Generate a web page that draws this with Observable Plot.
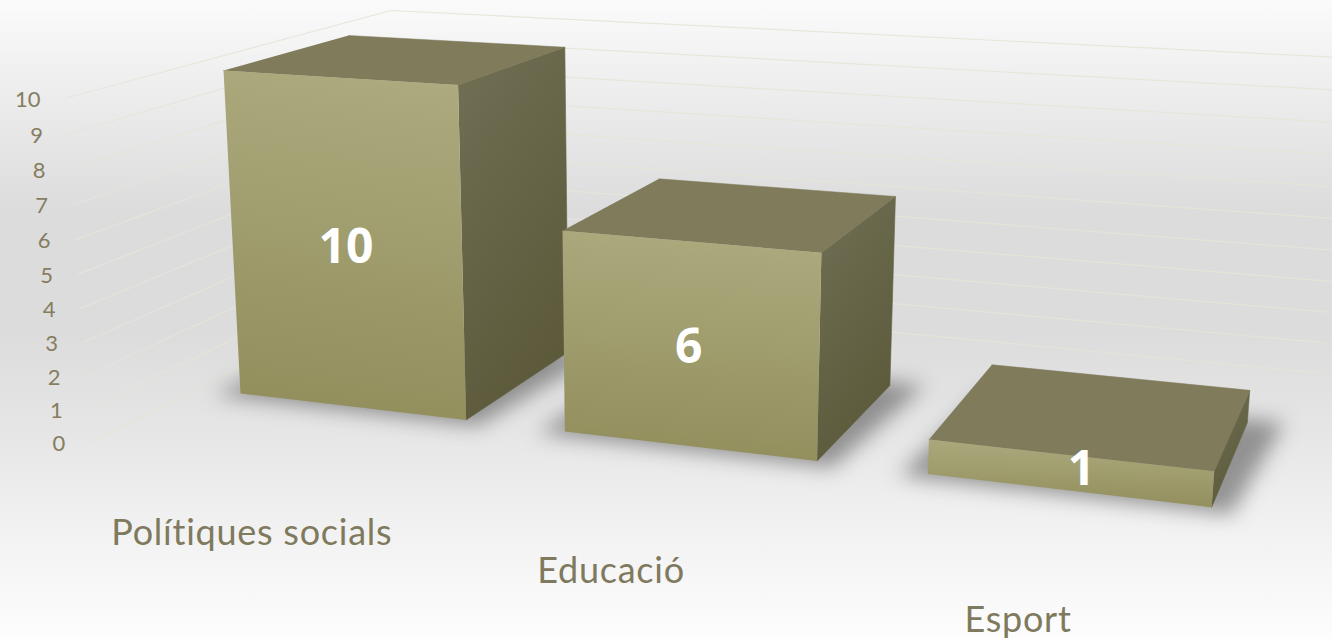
<!DOCTYPE html>
<html>
<head>
<meta charset="utf-8">
<script src="https://cdn.jsdelivr.net/npm/d3@7"></script>
<script src="https://cdn.jsdelivr.net/npm/@observablehq/plot@0.6"></script>
<style>
  html, body { margin: 0; padding: 0; background: #fff; overflow: hidden; }
  .cat text { letter-spacing: 0.75px; }
</style>
</head>
<body>
<div id="chart"></div>
<script>
// ---- chart data ----
const categories = ["Polítiques socials", "Educació", "Esport"];
const values = [10, 6, 1];
const ticks = [0, 1, 2, 3, 4, 5, 6, 7, 8, 9, 10];

// ---- 3D camera: vanishing points ----
const VX = [-5532, -283], VY = [655, 8287], VZ = [1553, -303], ORIGIN = [240, 393];
const KX = -0.038, KY = -0.00393, KZ = 0.0997;
function project(X, Y, Z) {
  const A = KX * X, B = KY * Y, C = KZ * Z;
  const w = 1 + A + B + C;
  return {
    x: (ORIGIN[0] + A * VX[0] + B * VY[0] + C * VZ[0]) / w,
    y: (ORIGIN[1] + A * VX[1] + B * VY[1] + C * VZ[1]) / w
  };
}

// ---- layout of the 3D box ----
const STEP = 1.4, BAR = 0.99, DEPTH = 1;
const WALL_X0 = -0.2, WALL_X1 = WALL_X0 + STEP * categories.length;
const WALL_Z0 = -0.737, WALL_Z1 = 1.778;
const labelDrop = [70, 61, 58];
const labelNudge = [[-2, 0], [-3, 0], [-4, 0]];
const valueNudge = [[1, 2], [0, 3], [14, -3]];

const poly = (id, corners) => corners.map(([X, Y, Z]) => ({id, ...project(X, Y, Z)}));

const front = [], top_ = [], right = [], shadow = [];
values.forEach((v, i) => {
  const x0 = i * STEP, x1 = x0 + BAR;
  front.push(...poly(i, [[x0, 0, 0], [x1, 0, 0], [x1, v, 0], [x0, v, 0]]));
  top_.push(...poly(i, [[x0, v, 0], [x1, v, 0], [x1, v, DEPTH], [x0, v, DEPTH]]));
  right.push(...poly(i, [[x1, 0, 0], [x1, 0, DEPTH], [x1, v, DEPTH], [x1, v, 0]]));
  shadow.push(...poly(i, [[x0 - 0.09, 0, -0.05], [x1 + 0.07, 0, -0.05], [x1 + 0.13, 0, DEPTH + 0.05], [x0 - 0.03, 0, DEPTH + 0.05]]));
});

const grid = ticks.flatMap(t => poly(t, [[WALL_X0, t, WALL_Z0], [WALL_X0, t, WALL_Z1], [WALL_X1, t, WALL_Z1]]));
const tickLabels = ticks.map(t => ({t, ...project(WALL_X0, t, WALL_Z0)}));
const catLabels = categories.map((c, i) => {
  const p = project(i * STEP + BAR / 2, 0, WALL_Z0);
  return {c, x: p.x + labelNudge[i][0], y: p.y + labelDrop[i] + labelNudge[i][1]};
});
const valueLabels = values.map((v, i) => {
  const p = project(i * STEP + BAR / 2, v / 2, 0);
  return {v, x: p.x + valueNudge[i][0], y: p.y + valueNudge[i][1]};
});

const defs = () => {
  const s = d3.create("svg:defs");
  const grad = (id, x1, y1, x2, y2, a, b) => {
    const g = s.append("linearGradient").attr("id", id)
      .attr("x1", x1).attr("y1", y1).attr("x2", x2).attr("y2", y2);
    g.append("stop").attr("offset", "0%").attr("stop-color", a);
    g.append("stop").attr("offset", "100%").attr("stop-color", b);
  };
  grad("frontFace", 0.55, 0, 0.45, 1, "#acaa7e", "#928e5c");
  grad("rightFace", 0.3, 0, 0.7, 1, "#6f6d52", "#5a5838");
  return s.node();
};

const plot = Plot.plot({
  width: 1332,
  height: 639,
  margin: 0,
  x: {domain: [0, 1332], range: [0, 1332], axis: null},
  y: {domain: [0, 639], range: [0, 639], axis: null},
  style: {
    background: "linear-gradient(to bottom, #fbfbfb 0%, #f1f1f1 10%, #dcdcdd 33%, #dcdcdc 52%, #e6e6e6 68%, #f1f1f1 82%, #fdfdfd 100%)",
    overflow: "hidden"
  },
  marks: [
    defs,
    Plot.line(grid, {x: "x", y: "y", z: "id", stroke: "#e6e4d8", strokeWidth: 1.2, strokeOpacity: 0.9}),
    Plot.line(shadow, {x: "x", y: "y", z: "id", fill: "#4a4a4a", fillOpacity: 0.55, stroke: "none", imageFilter: "blur(10px)"}),
    Plot.line(right, {x: "x", y: "y", z: "id", fill: "url(#rightFace)", stroke: "url(#rightFace)", strokeWidth: 0.6}),
    Plot.line(top_, {x: "x", y: "y", z: "id", fill: "#7f7b5b", stroke: "#7f7b5b", strokeWidth: 0.5}),
    Plot.line(front, {x: "x", y: "y", z: "id", fill: "url(#frontFace)", stroke: "none"}),
    Plot.text(tickLabels, {x: "x", y: "y", text: d => String(d.t), textAnchor: "end", dx: -25, dy: 1.5,
      fontFamily: "Lato", fontSize: 22, fill: "#857d60"}),
    Plot.text(catLabels, {x: "x", y: "y", text: "c", fontFamily: "Lato", fontSize: 36, fill: "#7f7a5e", className: "cat"}),
    Plot.text(valueLabels, {x: "x", y: "y", text: d => String(d.v), fontFamily: "Open Sans", fontWeight: 700,
      fontSize: 48, fill: "white"})
  ]
});
document.getElementById("chart").appendChild(plot);
</script>
</body>
</html>
